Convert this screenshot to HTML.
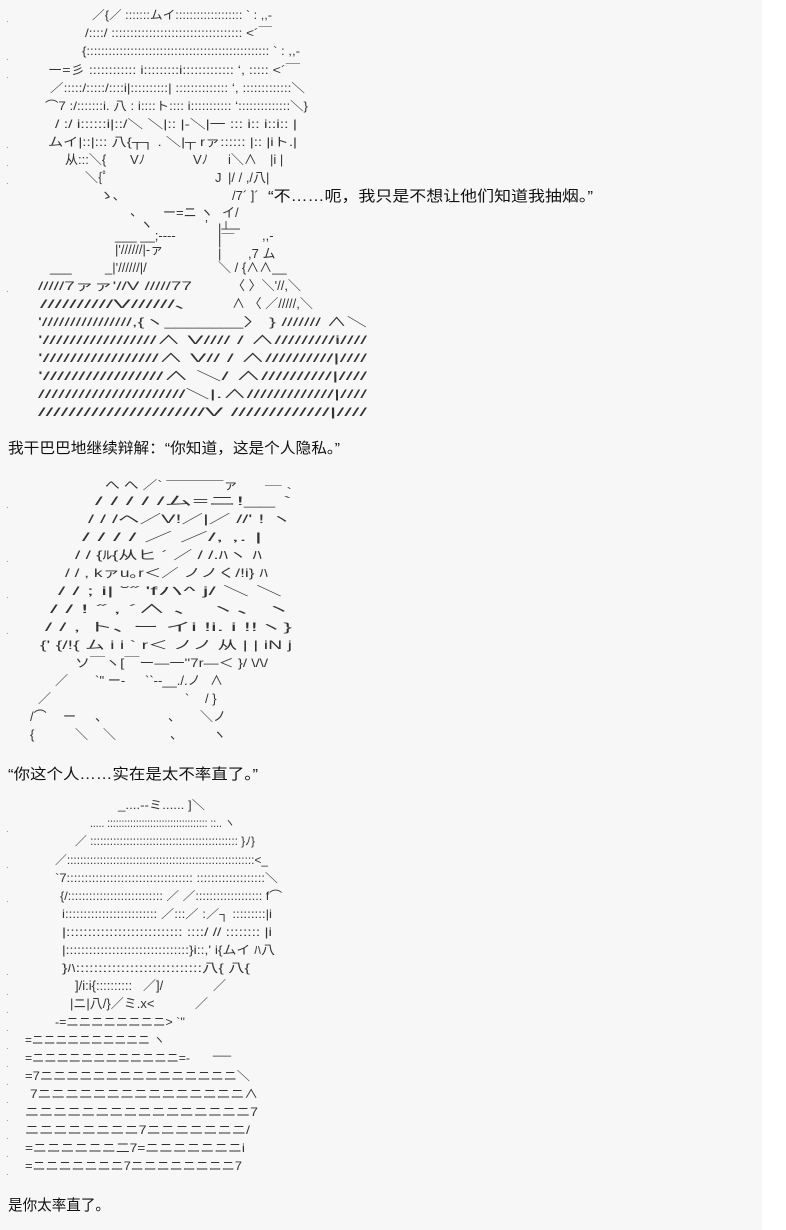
<!DOCTYPE html>
<html><head><meta charset="utf-8"><style>
html,body{margin:0;padding:0;background:#fff;}
svg{display:block}
.a{font-family:"Liberation Sans","Noto Sans CJK JP",sans-serif;font-size:12px;fill:#333;}
.a text:not([textLength]){font-size:13px;}
.t{font-family:"Liberation Sans","Noto Sans CJK SC",sans-serif;font-size:15px;fill:#111;}
.d{font-family:"Liberation Sans",sans-serif;font-size:10px;fill:#999;}
</style></head><body>
<svg width="786" height="1230" xmlns="http://www.w3.org/2000/svg">
<rect x="0" y="0" width="762" height="1230" fill="#f7f7f7"/>
<g class="d">
<text x="6" y="22">.</text><text x="6" y="60">.</text><text x="6" y="78">.</text><text x="6" y="148">.</text><text x="6" y="166">.</text><text x="6" y="184">.</text><text x="6" y="292">.</text>
<text x="6" y="508">.</text><text x="6" y="562">.</text><text x="6" y="598">.</text><text x="6" y="634">.</text>
<text x="6" y="832">.</text><text x="6" y="868">.</text><text x="6" y="902">.</text><text x="6" y="975">.</text><text x="6" y="995">.</text><text x="6" y="1013">.</text><text x="6" y="1031">.</text><text x="6" y="1049">.</text><text x="6" y="1067">.</text><text x="6" y="1085">.</text><text x="6" y="1103">.</text><text x="6" y="1121">.</text><text x="6" y="1139">.</text><text x="6" y="1157">.</text><text x="6" y="1175">.</text>
</g>
<g class="a">
<text x="92" y="19" textLength="180" lengthAdjust="spacingAndGlyphs">／{／ :::::::ムイ::::::::::::::::::: `  : ,,-</text>
<text x="85" y="37" textLength="187" lengthAdjust="spacingAndGlyphs">/::::/ ::::::::::::::::::::::::::::::::::: &lt;´￣</text>
<text x="82" y="55" textLength="218" lengthAdjust="spacingAndGlyphs">{::::::::::::::::::::::::::::::::::::::::::::::::::  `   : ,,-</text>
<text x="48" y="74" textLength="252" lengthAdjust="spacingAndGlyphs">ー=彡  :::::::::::: i:::::::::i:::::::::::::  ‘,  ::::: &lt;´￣</text>
<text x="50" y="92" textLength="255" lengthAdjust="spacingAndGlyphs">／:::::/:::::/::::i|::::::::::|  :::::::::::::: ‘, :::::::::::::＼</text>
<text x="45" y="110" textLength="263" lengthAdjust="spacingAndGlyphs">⌒7 :/:::::::i. 八 : i::::ト:::: i::::::::::: ‘::::::::::::::＼}</text>
<text x="55" y="128" textLength="242" lengthAdjust="spacingAndGlyphs">/ :/ i::::::i|::/＼ ＼|:: |-＼|一 ::: i:: i::i:: |</text>
<text x="48" y="146" textLength="249" lengthAdjust="spacingAndGlyphs">ムイ|::|::: 八{┬┐ . ＼|┬ rァ:::::: |:: |iト.|</text>
<text x="65" y="164">从:::＼{</text><text x="130" y="164">Vﾉ</text><text x="193" y="164">Vﾉ</text><text x="228" y="164">i＼∧</text><text x="270" y="164">|i |</text>
<text x="85" y="182">＼{ﾟ</text><text x="215" y="182">J</text><text x="228" y="182">|/ / ,/八|</text>
<text x="100" y="200">ゝ､</text><text x="232" y="200">/7´ ]´</text>
<text x="130" y="216">、</text><text x="163" y="217">ー=ニ ヽ</text><text x="222" y="217">イ/</text>
<text x="140" y="229">ヽ</text><text x="205" y="229">’</text><text x="218" y="233">|┴─</text>
<text x="115" y="240">___  __;----</text><text x="218" y="245">|￣</text><text x="262" y="240">,,-</text>
<text x="115" y="254">|'//////|-ァ</text><text x="218" y="258">|</text><text x="248" y="258">,7 ム</text>
<text x="50" y="272">___</text><text x="105" y="272">_|'//////|/</text><text x="218" y="272">＼ / {∧∧__</text>
<text x="38" y="290" textLength="154" lengthAdjust="spacingAndGlyphs">/////7ァァ'//V /////77</text><text x="232" y="290">〈      〉＼'//,＼</text>
<text x="40" y="308" textLength="148" lengthAdjust="spacingAndGlyphs">//////////V//////､</text><text x="232" y="308">∧ 〈 ／/////,＼</text>
<text x="38" y="326" textLength="329" lengthAdjust="spacingAndGlyphs">'////////////////,{ヽ_______〉 } /////// ∧＼</text>
<text x="38" y="344" textLength="329" lengthAdjust="spacingAndGlyphs">'/////////////////∧ V//// / ∧/////////i////</text>
<text x="38" y="362" textLength="329" lengthAdjust="spacingAndGlyphs">'/////////////////∧ V// / ∧//////////|////</text>
<text x="38" y="380" textLength="329" lengthAdjust="spacingAndGlyphs">'/////////////////∧ ＼/ ∧//////////|////</text>
<text x="38" y="398" textLength="329" lengthAdjust="spacingAndGlyphs">//////////////////////＼|.∧/////////////|////</text>
<text x="38" y="416" textLength="329" lengthAdjust="spacingAndGlyphs">//////////////////////V /////////////|////</text>

<text x="105" y="489" textLength="133" lengthAdjust="spacingAndGlyphs">へ へ ／`  ¯¯¯¯¯¯¯ァ</text>
<text x="265" y="496" textLength="27" lengthAdjust="spacingAndGlyphs">￣ `</text>
<text x="95" y="505" textLength="197" lengthAdjust="spacingAndGlyphs">/ /  /     /         /ム=ニ!__ `</text>
<text x="88" y="523" textLength="204" lengthAdjust="spacingAndGlyphs">/ / /ヘ／V!／|／ //'          !    ヽ</text>
<text x="82" y="541" textLength="180" lengthAdjust="spacingAndGlyphs">/  / / / ／ ／/,  ,.          |</text>
<text x="75" y="559" textLength="187" lengthAdjust="spacingAndGlyphs">/  /  {ﾙ{从ヒ ´ ／ / /.ﾊヽ ﾊ</text>
<text x="65" y="577" textLength="203" lengthAdjust="spacingAndGlyphs">/ /  ,    kァu｡r＜／ ノノく/!i} ﾊ</text>
<text x="58" y="595" textLength="224" lengthAdjust="spacingAndGlyphs">/ /  ;     i|  ˘˝         'fハ^ j/ ＼    ＼</text>
<text x="50" y="613" textLength="242" lengthAdjust="spacingAndGlyphs">/ /        !    ˝        ,  ´∧    、   ヽ、ヽ</text>
<text x="45" y="631" textLength="247" lengthAdjust="spacingAndGlyphs">/ /  ,       ト､     ー  イi  !i.  i    !!ヽ}</text>
<text x="40" y="649" textLength="252" lengthAdjust="spacingAndGlyphs">{' {/!{   ム    i i  `   r＜  ノノ 从  |  | iN  j</text>
<text x="75" y="667" textLength="193" lengthAdjust="spacingAndGlyphs">ソ￣ヽ[￣ー―一''7r―＜    }/ \/\/</text>
<text x="55" y="685">／</text><text x="95" y="685">`'' ー-</text><text x="145" y="685">``--__./.ノ</text><text x="210" y="685">∧</text>
<text x="38" y="703">／</text><text x="185" y="703">`</text><text x="205" y="703">/  }</text>
<text x="30" y="721">/⌒</text><text x="63" y="721">ー</text><text x="95" y="721">、</text><text x="168" y="721">、</text><text x="200" y="721">＼ノ</text>
<text x="30" y="739">{</text><text x="75" y="739">＼</text><text x="103" y="739">＼</text><text x="170" y="739">、</text><text x="213" y="739">ヽ</text>

<text x="118" y="809" textLength="87" lengthAdjust="spacingAndGlyphs">_....-‐ミ......     ]＼</text>
<text x="90" y="827" textLength="145" lengthAdjust="spacingAndGlyphs">..... ::::::::::::::::::::::::::::::::::: ::.. ヽ</text>
<text x="75" y="845" textLength="180" lengthAdjust="spacingAndGlyphs">／   ::::::::::::::::::::::::::::::::::::::::::::: }ﾉ}</text>
<text x="55" y="864" textLength="213" lengthAdjust="spacingAndGlyphs">／:::::::::::::::::::::::::::::::::::::::::::::::::::::::::&lt;_</text>
<text x="55" y="882" textLength="223" lengthAdjust="spacingAndGlyphs">`7:::::::::::::::::::::::::::::::::::  :::::::::::::::::::＼</text>
<text x="60" y="900" textLength="222" lengthAdjust="spacingAndGlyphs">{/::::::::::::::::::::::::::: ／ ／::::::::::::::::::: f⌒</text>
<text x="62" y="918" textLength="210" lengthAdjust="spacingAndGlyphs">i::::::::::::::::::::::::: ／:::／ :／┐ :::::::::|i</text>
<text x="62" y="936" textLength="210" lengthAdjust="spacingAndGlyphs">|:::::::::::::::::::::::::::  ::::/    // :::::::: |i</text>
<text x="62" y="954" textLength="213" lengthAdjust="spacingAndGlyphs">|::::::::::::::::::::::::::::::::}i::,'  i{ムイ ﾊ八</text>
<text x="62" y="972" textLength="188" lengthAdjust="spacingAndGlyphs">}ﾊ::::::::::::::::::::::::::::八{          八{</text>
<text x="75" y="990">]/i:i{::::::::::</text><text x="143" y="990">／]/</text><text x="213" y="990">／</text>
<text x="70" y="1008">|ニ|八/}／ミ.x&lt;</text><text x="195" y="1008">／</text>
<text x="55" y="1026" textLength="130" lengthAdjust="spacingAndGlyphs">-=ニニニニニニニニ&gt;  `''</text>
<text x="25" y="1044" textLength="140" lengthAdjust="spacingAndGlyphs">=ニニニニニニニニニニ  ヽ</text>
<text x="25" y="1062" textLength="165" lengthAdjust="spacingAndGlyphs">=ニニニニニニニニニニニニ=‐</text>
<text x="213" y="1054" textLength="18" lengthAdjust="spacingAndGlyphs">__</text>
<text x="25" y="1080" textLength="225" lengthAdjust="spacingAndGlyphs">=7ニニニニニニニニニニニニニニニ＼</text>
<text x="30" y="1098" textLength="228" lengthAdjust="spacingAndGlyphs">7ニニニニニニニニニニニニニニニ∧</text>
<text x="25" y="1116" textLength="233" lengthAdjust="spacingAndGlyphs">ニニニニニニニニニニニニニニニニ7</text>
<text x="25" y="1134" textLength="225" lengthAdjust="spacingAndGlyphs">ニニニニニニニニ7ニニニニニニニ/</text>
<text x="25" y="1152" textLength="220" lengthAdjust="spacingAndGlyphs">=ニニニニニニ二7=ニニニニニニニi</text>
<text x="25" y="1170" textLength="217" lengthAdjust="spacingAndGlyphs">=ニニニニニニニ7ニニニニニニニニ7</text>
</g>
<g class="t">
<text x="268" y="201" textLength="325" lengthAdjust="spacingAndGlyphs">“不……呃，我只是不想让他们知道我抽烟。”</text>
<text x="8" y="453" textLength="332" lengthAdjust="spacingAndGlyphs">我干巴巴地继续辩解：“你知道，这是个人隐私。”</text>
<text x="8" y="779" textLength="250" lengthAdjust="spacingAndGlyphs">“你这个人……实在是太不率直了。”</text>
<text x="8" y="1210" textLength="102" lengthAdjust="spacingAndGlyphs">是你太率直了。</text>
</g>
</svg>
</body></html>
